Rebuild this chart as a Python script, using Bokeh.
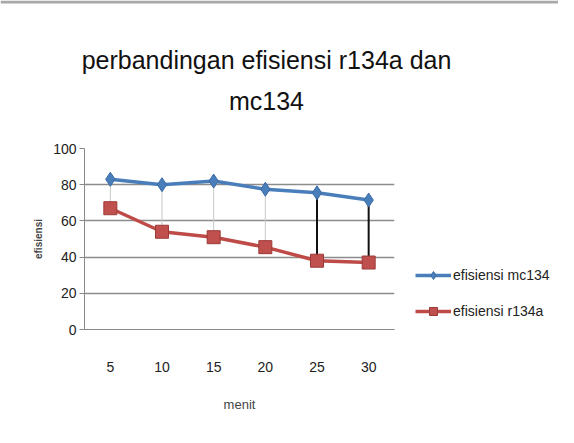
from bokeh.plotting import figure
from bokeh.layouts import row, column
from bokeh.models import Range1d, FactorRange, Legend, LegendItem, FixedTicker, Span
from bokeh.core.properties import value
from bokeh.embed import file_html
from bokeh.resources import INLINE

menit = ["5", "10", "15", "20", "25", "30"]
efisiensi_mc134 = [83, 80, 82, 77.5, 75.5, 71.5]
efisiensi_r134a = [67, 54, 51, 45.5, 38, 37]
series_names = ["efisiensi mc134", "efisiensi r134a"]
title_lines = ["perbandingan efisiensi r134a dan", "mc134"]
drop_colors = ["#c8c8c8", "#c8c8c8", "#c8c8c8", "#c8c8c8", "#111111", "#111111"]
drop_widths = [1, 1, 1, 1, 2, 2]

FONT = "Liberation Sans"
BLUE, BLUE_EDGE = "#4a7ebb", "#3a6aa5"
RED, RED_EDGE = "#c0504d", "#9c3a38"

# ---- title strip (pixel-like coordinate space) ----
tf = figure(width=558, height=120, x_range=Range1d(0, 558), y_range=Range1d(120, 0),
            output_backend="svg", toolbar_location=None,
            min_border_left=0, min_border_right=0, min_border_top=0, min_border_bottom=0)
tf.axis.visible = False
tf.grid.visible = False
tf.outline_line_color = None
tf.text(x=[266, 266], y=[59, 100], text=title_lines, text_font=value(FONT),
        text_font_size="25px", text_align="center", text_baseline="middle", text_color="#111111")
tf.add_layout(Span(location=1.5, dimension="width", line_color="#a8a8a8", line_width=3))

# ---- main chart ----
p = figure(frame_width=310, frame_height=181, x_range=FactorRange(*menit), y_range=Range1d(0, 100),
           output_backend="svg", toolbar_location=None,
           min_border_left=84, min_border_right=10, min_border_top=28, min_border_bottom=98)
p.outline_line_color = None
p.background_fill_color = "white"

p.segment(x0=menit, y0=efisiensi_r134a, x1=menit, y1=efisiensi_mc134,
          line_color=drop_colors, line_width=drop_widths)
p.line(menit, efisiensi_mc134, line_color=BLUE, line_width=3.5)
p.scatter(menit, efisiensi_mc134, marker="diamond", size=14, fill_color=BLUE, line_color=BLUE_EDGE)
p.line(menit, efisiensi_r134a, line_color="#be4b48", line_width=3.5)
p.scatter(menit, efisiensi_r134a, marker="square", size=13, fill_color=RED, line_color=RED_EDGE)

p.yaxis.ticker = FixedTicker(ticks=[0, 20, 40, 60, 80, 100])
p.yaxis.minor_tick_line_color = None
p.yaxis.axis_line_color = "#888888"
p.yaxis.major_tick_line_color = "#888888"
p.yaxis.major_tick_out = 5
p.yaxis.major_tick_in = 0
p.yaxis.major_label_text_font = FONT
p.yaxis.major_label_text_font_size = "14px"
p.yaxis.major_label_text_color = "#222222"
p.yaxis.major_label_standoff = 3
p.yaxis.axis_label = "efisiensi"
p.yaxis.axis_label_text_font = FONT
p.yaxis.axis_label_text_font_size = "10px"
p.yaxis.axis_label_text_font_style = "bold"
p.yaxis.axis_label_standoff = 6

p.xaxis.axis_line_color = "#888888"
p.xaxis.major_tick_line_color = None
p.xaxis.major_label_text_font = FONT
p.xaxis.major_label_text_font_size = "14px"
p.xaxis.major_label_text_color = "#222222"
p.xaxis.major_label_standoff = 26
p.xaxis.axis_label = "menit"
p.xaxis.axis_label_text_font = FONT
p.xaxis.axis_label_text_font_size = "13px"
p.xaxis.axis_label_text_font_style = "normal"
p.xaxis.axis_label_standoff = 22

p.xgrid.grid_line_color = None
p.ygrid.grid_line_color = "#8c8c8c"
p.ygrid.grid_line_width = 1.5

# ---- legend strip ----
lf = figure(width=154, height=307, x_range=Range1d(0, 1), y_range=Range1d(0, 1),
            output_backend="svg", toolbar_location=None,
            min_border_left=0, min_border_right=0, min_border_top=0, min_border_bottom=0)
lf.axis.visible = False
lf.grid.visible = False
lf.outline_line_color = None
nan = [float("nan")]
lb_line = lf.line(nan, nan, line_color=BLUE, line_width=3.5)
lb_mark = lf.scatter(nan, nan, marker="diamond", size=11, fill_color=BLUE, line_color=BLUE_EDGE)
lr_line = lf.line(nan, nan, line_color="#be4b48", line_width=3.5)
lr_mark = lf.scatter(nan, nan, marker="square", size=10, fill_color=RED, line_color=RED_EDGE)

legend = Legend(items=[LegendItem(label=series_names[0], renderers=[lb_line, lb_mark]),
                       LegendItem(label=series_names[1], renderers=[lr_line, lr_mark])],
                location=(11, 8), label_text_font=FONT, label_text_font_size="14px",
                label_text_color="#222222",
                glyph_width=36, glyph_height=20, label_height=20, spacing=16,
                border_line_color=None, background_fill_alpha=0,
                padding=0, margin=0, label_standoff=2)
lf.add_layout(legend)

layout = column(tf, row(p, lf))
open("out.html", "w").write(file_html(layout, INLINE))
